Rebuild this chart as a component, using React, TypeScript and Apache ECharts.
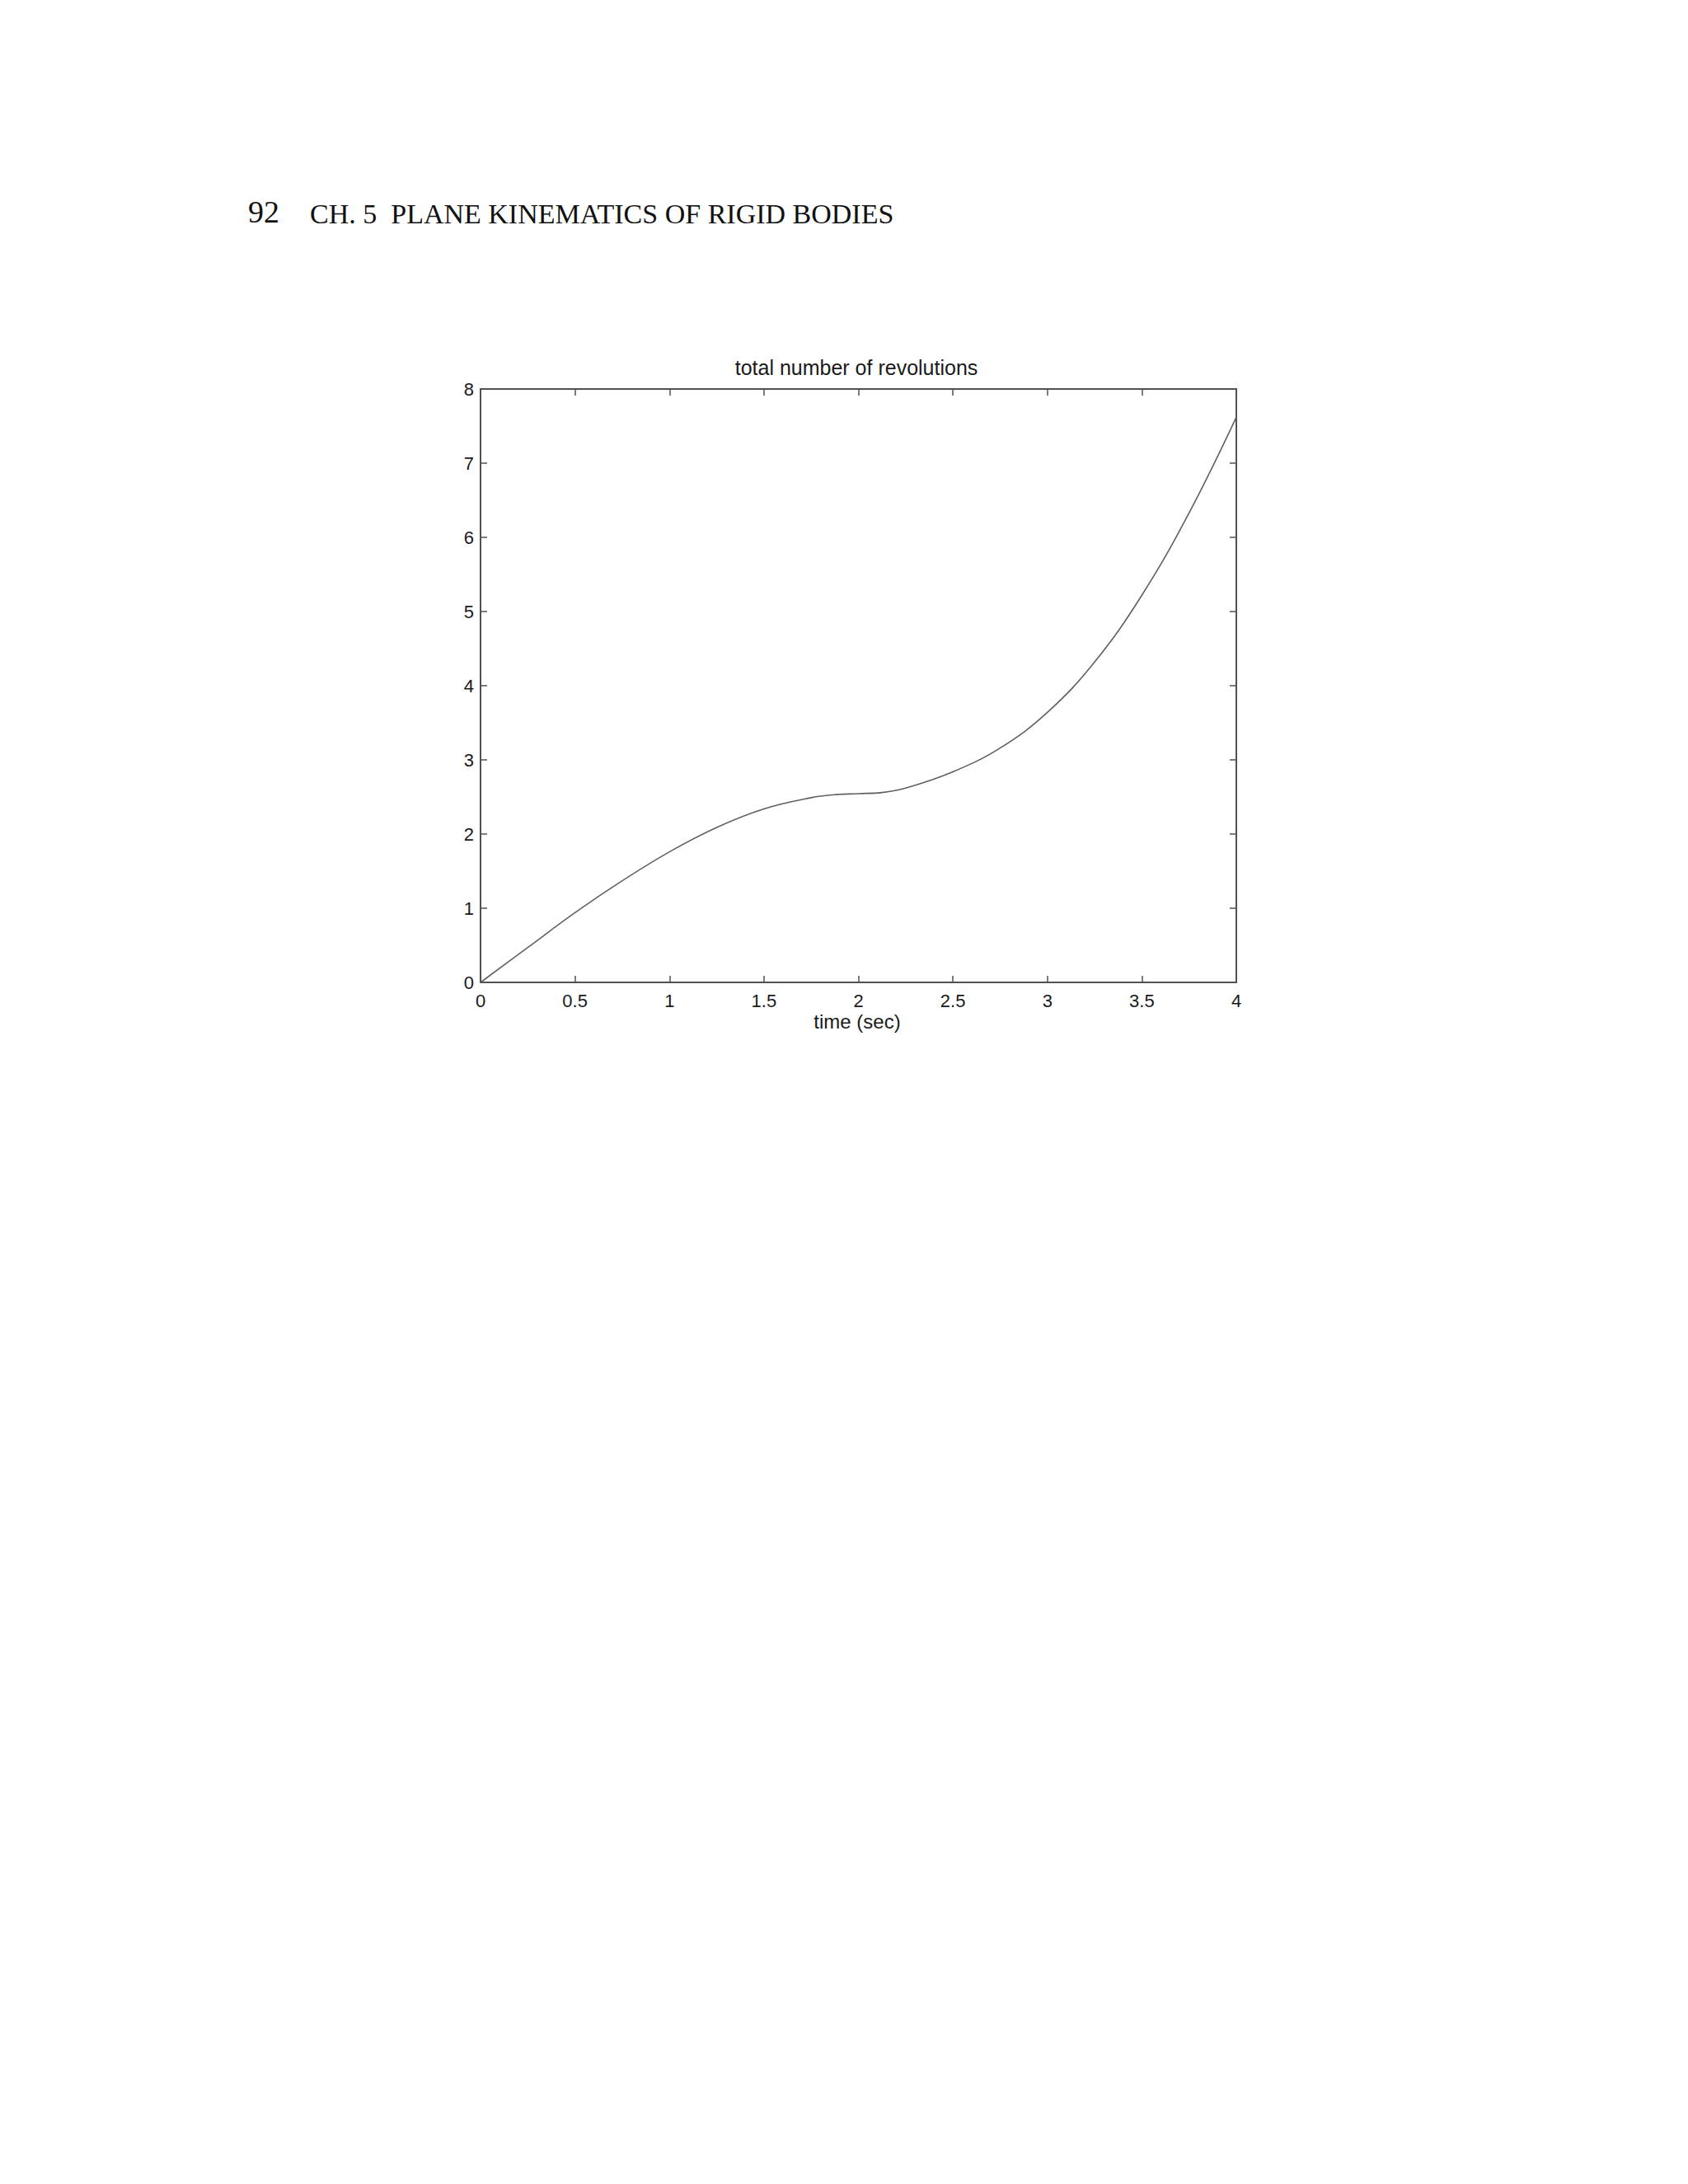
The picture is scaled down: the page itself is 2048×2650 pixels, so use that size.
import { useEffect, useRef } from 'react';
import * as echarts from 'echarts';

// time (sec) and total revolutions
const timeSec = [0, 0.25, 0.5, 0.75, 1.0, 1.25, 1.5, 1.75, 1.875, 2.0, 2.125, 2.25, 2.5, 2.75, 3.0, 3.25, 3.5, 3.75, 4.0];
const revolutions = [0, 0.47, 0.94, 1.37, 1.76, 2.09, 2.34, 2.49, 2.53, 2.545, 2.56, 2.62, 2.84, 3.16, 3.64, 4.32, 5.22, 6.33, 7.62];

const pageNumber = '92';
const runningHead = 'CH. 5  PLANE KINEMATICS OF RIGID BODIES';
const plotTitle = 'total number of revolutions';
const xLabel = 'time (sec)';

const axisColor = '#505050';
const sans = 'Liberation Sans, Arial, sans-serif';
const serif = 'Liberation Serif, Times New Roman, serif';

export default function App() {
    const chartRef = useRef<HTMLDivElement>(null);

    useEffect(() => {
        if (!chartRef.current) return;
        const chart = echarts.init(chartRef.current, undefined, { renderer: 'svg' });

        const tickStyle = { show: true, inside: true, length: 8, lineStyle: { color: axisColor, width: 1.5 } };
        const lineStyle = { color: axisColor, width: 2 };
        const labelStyle = { color: '#1a1a1a', fontSize: 22, fontFamily: sans };

        chart.setOption({
            animation: false,
            backgroundColor: '#fff',
            grid: { left: 575, top: 464, width: 917, height: 720 },
            xAxis: [
                {
                    type: 'value',
                    position: 'bottom',
                    min: 0,
                    max: 4,
                    interval: 0.5,
                    axisLine: { show: true, onZero: false, lineStyle },
                    axisTick: tickStyle,
                    axisLabel: { ...labelStyle, margin: 11 },
                    splitLine: { show: false },
                },
                {
                    type: 'value',
                    position: 'top',
                    min: 0,
                    max: 4,
                    interval: 0.5,
                    axisLine: { show: true, onZero: false, lineStyle },
                    axisTick: tickStyle,
                    axisLabel: { show: false },
                    splitLine: { show: false },
                },
            ],
            yAxis: [
                {
                    type: 'value',
                    position: 'left',
                    min: 0,
                    max: 8,
                    interval: 1,
                    axisLine: { show: true, onZero: false, lineStyle },
                    axisTick: tickStyle,
                    axisLabel: { ...labelStyle, margin: 8 },
                    splitLine: { show: false },
                },
                {
                    type: 'value',
                    position: 'right',
                    min: 0,
                    max: 8,
                    interval: 1,
                    axisLine: { show: true, onZero: false, lineStyle },
                    axisTick: tickStyle,
                    axisLabel: { show: false },
                    splitLine: { show: false },
                },
            ],
            series: [
                {
                    type: 'line',
                    data: timeSec.map((t, i) => [t, revolutions[i]]),
                    smooth: 0.4,
                    showSymbol: false,
                    lineStyle: { color: '#606060', width: 1.6 },
                },
            ],
            graphic: [
                {
                    type: 'text',
                    x: 293,
                    y: 249,
                    style: { text: pageNumber, fontSize: 38, fontFamily: serif, fill: '#111', verticalAlign: 'middle' },
                },
                {
                    type: 'text',
                    x: 368,
                    y: 251,
                    style: { text: runningHead, fontSize: 34, fontFamily: serif, fill: '#111', verticalAlign: 'middle' },
                },
                {
                    type: 'text',
                    x: 1031,
                    y: 438,
                    style: { text: plotTitle, fontSize: 25, fontFamily: sans, fill: '#1a1a1a', align: 'center', verticalAlign: 'middle' },
                },
                {
                    type: 'text',
                    x: 1032,
                    y: 1231,
                    style: { text: xLabel, fontSize: 24, fontFamily: sans, fill: '#1a1a1a', align: 'center', verticalAlign: 'middle' },
                },
            ],
        });

        return () => {
            chart.dispose();
        };
    }, []);

    return <div ref={chartRef} style={{ width: 2032, height: 2634 }} />;
}
